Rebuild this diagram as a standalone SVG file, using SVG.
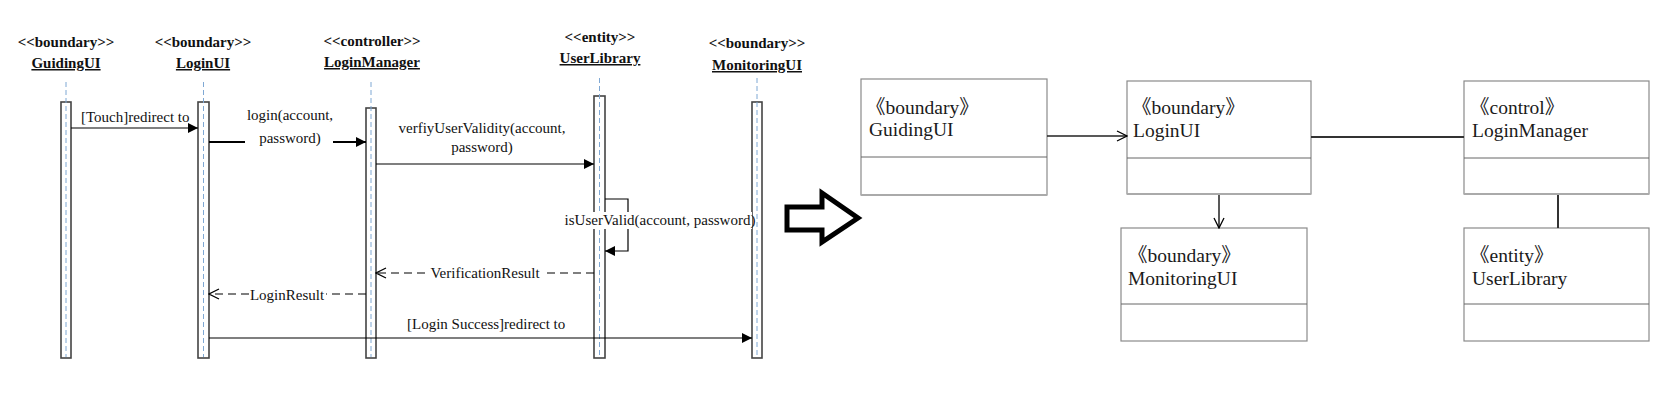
<svg xmlns="http://www.w3.org/2000/svg" width="1666" height="401" viewBox="0 0 1666 401">
<style>
.hdr{font-family:"Liberation Serif","Times New Roman",serif;font-size:15px;font-weight:bold;text-anchor:middle;fill:#111}
.nm{text-decoration:underline}
.lbl{font-family:"Liberation Serif","Times New Roman",serif;font-size:15px;fill:#111}
.mid{text-anchor:middle}
.life{stroke:#7fa8d4;stroke-width:1;stroke-dasharray:5,3;fill:none}
.bar{fill:#fff;stroke:#444;stroke-width:1.6}
.msg{stroke:#000;stroke-width:1.2;fill:none}
.ret{stroke:#000;stroke-width:1.2;fill:none;stroke-dasharray:8,5}
.box{fill:#fff;stroke:#8a8a8a;stroke-width:1.2}
.div{stroke:#666;stroke-width:1}
.shadow{stroke:#aaa;stroke-width:2}
.ct{font-family:"Liberation Serif","Times New Roman","Noto Sans CJK SC",serif;font-size:19.5px;fill:#1a1a1a}
.assoc{stroke:#333;stroke-width:2;fill:none}
.dep{stroke:#222;stroke-width:1.5;fill:none}
</style>
<defs>
<marker id="fill" markerWidth="10" markerHeight="10" refX="10" refY="5" orient="auto" markerUnits="userSpaceOnUse"><path d="M0,0 L10,5 L0,10 z" fill="#000"/></marker>
<marker id="open" markerWidth="12" markerHeight="12" refX="11" refY="6" orient="auto" markerUnits="userSpaceOnUse"><path d="M1,1 L11,6 L1,11" fill="none" stroke="#000" stroke-width="1.3"/></marker>
</defs>
<rect width="1666" height="401" fill="#fff"/>

<!-- Sequence diagram lifelines -->
<g id="seq-GuidingUI">
<text class="hdr" x="66" y="47">&lt;&lt;boundary&gt;&gt;</text>
<text class="hdr nm" x="66" y="68">GuidingUI</text>
<rect class="bar" x="61" y="102" width="10" height="256"/>
<line class="life" x1="66" y1="82" x2="66" y2="357"/>
</g>
<g id="seq-LoginUI">
<text class="hdr" x="203" y="47">&lt;&lt;boundary&gt;&gt;</text>
<text class="hdr nm" x="203" y="68">LoginUI</text>
<rect class="bar" x="198" y="102" width="11" height="256"/>
<line class="life" x1="203.5" y1="82" x2="203.5" y2="357"/>
</g>
<g id="seq-LoginManager">
<text class="hdr" x="372" y="46">&lt;&lt;controller&gt;&gt;</text>
<text class="hdr nm" x="372" y="67">LoginManager</text>
<rect class="bar" x="366" y="108" width="10" height="250"/>
<line class="life" x1="371" y1="82" x2="371" y2="357"/>
</g>
<g id="seq-UserLibrary">
<text class="hdr" x="600" y="42">&lt;&lt;entity&gt;&gt;</text>
<text class="hdr nm" x="600" y="63">UserLibrary</text>
<rect class="bar" x="594" y="96" width="11" height="262"/>
<line class="life" x1="599.5" y1="78" x2="599.5" y2="357"/>
</g>
<g id="seq-MonitoringUI">
<text class="hdr" x="757" y="48">&lt;&lt;boundary&gt;&gt;</text>
<text class="hdr nm" x="757" y="70">MonitoringUI</text>
<rect class="bar" x="752" y="102" width="10" height="256"/>
<line class="life" x1="757" y1="78" x2="757" y2="357"/>
</g>

<!-- Sequence messages -->
<g id="seq-messages">
<line class="msg" x1="71" y1="128" x2="198" y2="128" marker-end="url(#fill)"/>
<text class="lbl" x="81" y="122">[Touch]redirect to</text>

<line x1="209" y1="142" x2="245" y2="142" stroke="#000" stroke-width="2"/>
<line x1="333" y1="142" x2="366" y2="142" stroke="#000" stroke-width="2" marker-end="url(#fill)"/>
<text class="lbl mid" x="290" y="120">login(account,</text>
<text class="lbl mid" x="290" y="143">password)</text>

<line class="msg" x1="376" y1="164" x2="594" y2="164" marker-end="url(#fill)"/>
<text class="lbl mid" x="482" y="133">verfiyUserValidity(account,</text>
<text class="lbl mid" x="482" y="152">password)</text>

<path class="msg" d="M605,199 H628 V251 H605" marker-end="url(#fill)"/>
<rect x="563" y="212" width="189" height="17" fill="#fff"/>
<text class="lbl mid" x="660" y="225">isUserValid(account, password)</text>

<line class="ret" x1="594" y1="273" x2="376" y2="273" marker-end="url(#open)"/>
<rect x="426" y="264" width="118" height="18" fill="#fff"/>
<text class="lbl mid" x="485" y="278">VerificationResult</text>

<line class="ret" x1="366" y1="294" x2="209" y2="294" marker-end="url(#open)"/>
<rect x="249" y="285" width="77" height="18" fill="#fff"/>
<text class="lbl mid" x="287" y="300">LoginResult</text>

<line class="msg" x1="209" y1="338" x2="752" y2="338" marker-end="url(#fill)"/>
<text class="lbl" x="407" y="329">[Login Success]redirect to</text>
</g>

<!-- Transformation arrow -->
<g id="transform-arrow">
<polygon points="787,207 822,207 822,193 858,218 822,242 822,230 787,230" fill="#fff" stroke="#000" stroke-width="5" stroke-linejoin="miter"/>
</g>

<!-- Class diagram nodes -->
<g id="cls-GuidingUI">
<rect class="box" x="861" y="79" width="186" height="116"/>
<line class="shadow" x1="861" y1="195" x2="1047" y2="195"/>
<line class="div" x1="861" y1="157" x2="1047" y2="157"/>
<text class="ct" x="866" y="114">《boundary》</text>
<text class="ct" x="869" y="136">GuidingUI</text>
</g>
<g id="cls-LoginUI">
<rect class="box" x="1127" y="81" width="184" height="113"/>
<line class="shadow" x1="1127" y1="194" x2="1311" y2="194"/>
<line class="div" x1="1127" y1="158" x2="1311" y2="158"/>
<text class="ct" x="1132" y="114">《boundary》</text>
<text class="ct" x="1133" y="137">LoginUI</text>
</g>
<g id="cls-LoginManager">
<rect class="box" x="1464" y="81" width="185" height="113"/>
<line class="shadow" x1="1464" y1="194" x2="1649" y2="194"/>
<line class="div" x1="1464" y1="158" x2="1649" y2="158"/>
<text class="ct" x="1470" y="114">《control》</text>
<text class="ct" x="1472" y="137">LoginManager</text>
</g>
<g id="cls-MonitoringUI">
<rect class="box" x="1121" y="228" width="186" height="113"/>
<line class="div" x1="1121" y1="304" x2="1307" y2="304"/>
<text class="ct" x="1128" y="262">《boundary》</text>
<text class="ct" x="1128" y="285">MonitoringUI</text>
</g>
<g id="cls-UserLibrary">
<rect class="box" x="1464" y="228" width="185" height="113"/>
<line class="div" x1="1464" y1="304" x2="1649" y2="304"/>
<text class="ct" x="1470" y="262">《entity》</text>
<text class="ct" x="1472" y="285">UserLibrary</text>
</g>

<!-- Class diagram connectors -->
<g id="cls-connectors">
<line class="dep" x1="1047" y1="136" x2="1127" y2="136" marker-end="url(#open)"/>
<line class="assoc" x1="1311" y1="137" x2="1464" y2="137"/>
<line class="dep" x1="1219" y1="195" x2="1219" y2="228" marker-end="url(#open)"/>
<line class="assoc" x1="1558" y1="195" x2="1558" y2="228"/>
</g>
</svg>
